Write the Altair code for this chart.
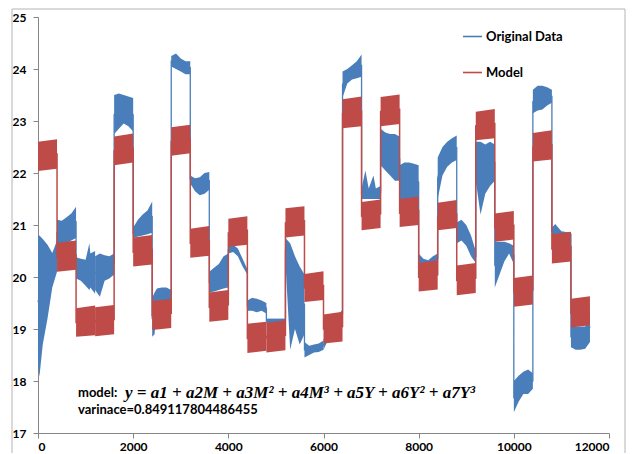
import altair as alt
import pandas as pd

BLUE = "#4A7EBB"
RED = "#BE4B48"

# ---- Model: 29 steps of 400 samples, each drawn as a thick band (lo..hi) ----
block_start = [0, 400, 800, 1200, 1600, 2000, 2400, 2800, 3200, 3600, 4000, 4400, 4800, 5200,
               5600, 6000, 6400, 6800, 7200, 7600, 8000, 8400, 8800, 9200, 9600, 10000, 10400,
               10800, 11200]
block_end = [400, 800, 1200, 1600, 2000, 2400, 2800, 3200, 3600, 4000, 4400, 4800, 5200, 5600,
             6000, 6400, 6800, 7200, 7600, 8000, 8400, 8800, 9200, 9600, 10000, 10400, 10800,
             11200, 11600]
model_lo_start = [22.04, 20.10, 18.85, 18.86, 22.15, 20.20, 18.98, 22.33, 20.37, 19.14, 20.58,
                  18.54, 18.55, 20.76, 19.52, 18.72, 22.86, 20.90, 22.90, 20.96, 19.72, 20.90,
                  19.65, 22.63, 20.68, 19.43, 22.22, 20.26, 19.03]
model_hi_start = [22.60, 20.66, 19.40, 19.42, 22.70, 20.76, 19.54, 22.88, 20.93, 19.70, 21.12,
                  19.10, 19.12, 21.32, 20.06, 19.28, 23.42, 21.44, 23.46, 21.50, 20.27, 21.43,
                  20.22, 23.18, 21.22, 19.98, 22.77, 20.82, 19.58]
model_lo_end = [22.08, 20.14, 18.88, 18.90, 22.20, 20.24, 19.02, 22.38, 20.41, 19.18, 20.62,
                18.58, 18.59, 20.80, 19.56, 18.76, 22.90, 20.94, 22.94, 21.00, 19.76, 20.94,
                19.69, 22.67, 20.72, 19.47, 22.26, 20.30, 19.07]
model_hi_end = [22.65, 20.70, 19.45, 19.46, 22.76, 20.81, 19.58, 22.93, 20.98, 19.75, 21.17,
                19.14, 19.17, 21.36, 20.11, 19.33, 23.47, 21.49, 23.51, 21.55, 20.32, 21.48,
                20.27, 23.23, 21.27, 20.03, 22.82, 20.87, 19.63]

# ---- Original data: envelope (lo..hi) of the noisy signal, read per block ----
blue_block = [0]*6 + [1]*5 + [2]*6 + [3]*5 + [4]*5 + [5]*5 + [6]*6 + [7]*5 + [8]*5 + [9]*5 + \
             [10]*5 + [11]*5 + [12]*3 + [13]*5 + [14]*5 + [15]*5 + [16]*5 + [17]*6 + [18]*5 + \
             [19]*5 + [20]*5 + [21]*5 + [22]*5 + [23]*5 + [24]*5 + [25]*5 + [26]*5 + [27]*4 + [28]*5
blue_x = [0, 30, 100, 200, 300, 400,
          400, 500, 600, 700, 800,
          800, 900, 1000, 1080, 1100, 1200,
          1200, 1300, 1400, 1500, 1600,
          1600, 1700, 1800, 1900, 2000,
          2000, 2100, 2200, 2300, 2400,
          2400, 2450, 2500, 2600, 2700, 2800,
          2800, 2900, 3000, 3100, 3200,
          3200, 3300, 3400, 3500, 3600,
          3600, 3700, 3800, 3900, 4000,
          4000, 4100, 4200, 4300, 4400,
          4400, 4500, 4600, 4700, 4800,
          4800, 5000, 5200,
          5200, 5300, 5400, 5500, 5600,
          5600, 5700, 5800, 5900, 6000,
          6000, 6100, 6200, 6300, 6400,
          6400, 6500, 6600, 6700, 6800,
          6800, 6880, 6950, 7050, 7100, 7200,
          7200, 7300, 7400, 7500, 7600,
          7600, 7700, 7800, 7900, 8000,
          8000, 8100, 8200, 8300, 8400,
          8400, 8500, 8600, 8700, 8800,
          8800, 8900, 9000, 9100, 9200,
          9200, 9300, 9400, 9500, 9600,
          9600, 9700, 9800, 9900, 10000,
          10000, 10100, 10200, 10300, 10400,
          10400, 10500, 10600, 10700, 10800,
          10800, 10870, 11000, 11200,
          11200, 11300, 11400, 11500, 11600]
blue_lo = [18.30, 18.08, 18.70, 19.20, 19.80, 20.10,
           20.60, 20.62, 20.65, 20.70, 20.75,
           19.97, 19.93, 19.83, 19.75, 19.80, 19.68,
           19.75, 19.62, 19.93, 19.97, 20.05,
           22.75, 22.85, 22.95, 22.90, 22.80,
           20.75, 20.78, 20.80, 20.82, 20.85,
           18.85, 18.90, 19.50, 19.52, 19.55, 19.55,
           24.05, 24.00, 23.95, 23.90, 23.90,
           21.80, 21.65, 21.57, 21.60, 21.68,
           19.70, 19.72, 19.75, 19.78, 19.80,
           20.45, 20.48, 20.40, 20.20, 20.05,
           19.35, 19.35, 19.32, 19.35, 19.30,
           19.10, 19.10, 19.10,
           20.30, 18.60, 19.00, 18.70, 18.90,
           18.45, 18.50, 18.55, 18.56, 18.60,
           18.60, 18.80, 18.95, 19.10, 19.20,
           23.45, 23.72, 23.80, 23.82, 23.85,
           21.50, 21.50, 21.50, 21.50, 21.50, 21.50,
           22.15, 22.05, 21.95, 21.85, 21.85,
           21.50, 21.50, 21.50, 21.50, 21.50,
           20.25, 20.25, 20.25, 20.25, 20.25,
           21.50, 21.95, 22.12, 22.20, 22.25,
           20.65, 20.70, 20.60, 20.40, 20.27,
           21.85, 21.20, 21.60, 21.75, 21.85,
           19.80, 20.05, 20.30, 20.45, 20.25,
           17.40, 17.60, 17.75, 17.75, 17.85,
           23.15, 23.20, 23.22, 23.30, 23.35,
           20.80, 20.80, 20.80, 20.80,
           18.65, 18.60, 18.60, 18.62, 18.75]
blue_hi = [20.80, 20.80, 20.73, 20.62, 20.46, 20.70,
           21.10, 21.08, 21.15, 21.22, 21.35,
           20.38, 20.35, 20.33, 20.65, 20.45, 20.50,
           20.40, 20.45, 20.42, 20.40, 20.45,
           23.50, 23.53, 23.50, 23.47, 23.44,
           20.95, 21.10, 21.20, 21.28, 21.45,
           19.60, 19.70, 19.78, 19.80, 19.80, 19.75,
           24.25, 24.30, 24.20, 24.15, 24.15,
           21.95, 21.90, 21.92, 22.00, 22.02,
           20.10, 20.18, 20.25, 20.40, 20.45,
           20.60, 20.62, 20.55, 20.35, 20.15,
           19.55, 19.60, 19.58, 19.55, 19.50,
           19.20, 19.20, 19.20,
           20.75, 20.65, 20.40, 20.20, 20.05,
           18.75, 18.68, 18.70, 18.72, 18.78,
           18.80, 18.95, 19.10, 19.25, 19.38,
           23.95, 24.00, 24.07, 24.15, 24.28,
           21.70, 22.05, 21.70, 21.95, 21.70, 21.75,
           22.85, 22.78, 22.75, 22.75, 22.70,
           22.15, 22.20, 22.20, 22.18, 22.15,
           20.45, 20.35, 20.32, 20.40, 20.45,
           22.30, 22.50, 22.60, 22.67, 22.72,
           21.05, 21.10, 21.00, 20.80, 20.50,
           22.60, 22.60, 22.55, 22.60, 22.55,
           20.68, 20.68, 20.68, 20.65, 20.60,
           18.00, 18.10, 18.18, 18.22, 18.15,
           23.60, 23.68, 23.68, 23.65, 23.60,
           20.95, 21.02, 20.88, 20.85,
           19.05, 19.05, 19.05, 19.05, 19.35]

x_ticks = [0, 2000, 4000, 6000, 8000, 10000, 12000]
y_ticks = [17, 18, 19, 20, 21, 22, 23, 24, 25]
series_names = ["Original Data", "Model"]
note_label = ["model:", "varinace=0.849117804486455"]
note_equation = "y = a1 + a2M + a3M² + a4M³ + a5Y + a6Y² + a7Y³"
note_x = [841, 841]
note_y = [17.77, 17.44]
equation_x = 1830

# ---- tables ----
m_area, m_line = [], []
for i in range(len(block_start)):
    m_area.append(dict(block=i, x=block_start[i], lo=model_lo_start[i], hi=model_hi_start[i]))
    m_area.append(dict(block=i, x=block_end[i], lo=model_lo_end[i], hi=model_hi_end[i]))
    m_line.append(dict(o=2 * i, x=block_start[i], v=(model_lo_start[i] + model_hi_start[i]) / 2, series="Model"))
    m_line.append(dict(o=2 * i + 1, x=block_end[i], v=(model_lo_end[i] + model_hi_end[i]) / 2, series="Model"))
model_area_df = pd.DataFrame(m_area)
model_line_df = pd.DataFrame(m_line)

blue_df = pd.DataFrame(dict(block=blue_block, x=blue_x, lo=blue_lo, hi=blue_hi))
blue_df["v"] = (blue_df["lo"] + blue_df["hi"]) / 2
blue_df["o"] = range(len(blue_df))
blue_df["series"] = "Original Data"

color = alt.Color("series:N",
                  scale=alt.Scale(domain=series_names, range=[BLUE, RED]),
                  legend=alt.Legend(title=None, orient="none", legendX=424, legendY=9,
                                    symbolType="stroke", symbolSize=361, symbolStrokeWidth=1.6,
                                    labelFont="Lato", labelFontWeight="bold", labelFontSize=13,
                                    labelColor="black", labelOffset=3, rowPadding=18, padding=0))

xenc = alt.X("x:Q", scale=alt.Scale(domain=[0, 12000], nice=False),
             axis=alt.Axis(values=x_ticks, title=None, grid=False, format="d"))
yenc = alt.Y("lo:Q", scale=alt.Scale(domain=[17, 25], nice=False),
             axis=alt.Axis(values=y_ticks, title=None, grid=False))

# bands drawn with constant colours (so that only the lines feed the legend)
blue_area = alt.Chart(blue_df).mark_area(color=BLUE, opacity=1).encode(
    x=xenc, y=yenc, y2="hi:Q", detail="block:N")
blue_line = alt.Chart(blue_df).mark_line(strokeWidth=1.3).encode(
    x="x:Q", y="v:Q", order="o:Q", color=color)
red_line = alt.Chart(model_line_df).mark_line(strokeWidth=1.5).encode(
    x="x:Q", y="v:Q", order="o:Q", color=color)
red_area = alt.Chart(model_area_df).mark_area(color=RED, opacity=1).encode(
    x="x:Q", y="lo:Q", y2="hi:Q", detail="block:N")

# outer chart frame (decoration, pixel positions)
one = pd.DataFrame({"a": [0]})
FRAME = "#B4B4B4"
frame_l = alt.Chart(one).mark_rule(color=FRAME, strokeWidth=1).encode(
    x=alt.value(-26), y=alt.value(-8), y2=alt.value(440))
frame_r = alt.Chart(one).mark_rule(color=FRAME, strokeWidth=1).encode(
    x=alt.value(587), y=alt.value(-8), y2=alt.value(440))
frame_t = alt.Chart(one).mark_rule(color=FRAME, strokeWidth=1).encode(
    x=alt.value(-26), x2=alt.value(587), y=alt.value(-8))

notes_df = pd.DataFrame(dict(x=note_x, y=note_y, t=note_label))
notes = alt.Chart(notes_df).mark_text(
    align="left", baseline="middle", font="Lato", fontWeight="bold", fontSize=13, color="black").encode(
    x="x:Q", y="y:Q", text="t:N")
eq_df = pd.DataFrame(dict(x=[equation_x], y=[note_y[0]], t=[note_equation]))
eq = alt.Chart(eq_df).mark_text(
    align="left", baseline="middle", font="Liberation Serif", fontStyle="italic",
    fontWeight="bold", fontSize=17, color="black").encode(
    x="x:Q", y="y:Q", text="t:N")

chart = alt.layer(blue_area, blue_line, red_line, red_area, frame_l, frame_r, frame_t, notes, eq).properties(
    width=571, height=416,
    autosize=alt.AutoSizeParams(type="none"),
    padding={"left": 30, "top": 9, "right": 18, "bottom": 20},
).configure_view(stroke=None).configure_axis(
    labelFont="Lato", labelFontWeight="bold", labelFontSize=12, labelColor="black",
    domainColor="#868686", tickColor="#868686", tickSize=5, domainWidth=1,
).configure_axisY(labelPadding=7).configure_axisX(labelPadding=3)

chart.save("out.html", embed_options={"renderer": "svg", "actions": False})
